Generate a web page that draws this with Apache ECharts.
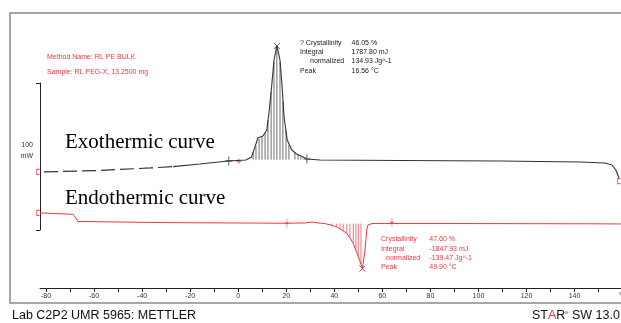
<!DOCTYPE html>
<html>
<head>
<meta charset="utf-8">
<script src="https://cdn.jsdelivr.net/npm/echarts@6.0.0/dist/echarts.min.js"></script>
<style>
  html, body { margin: 0; padding: 0; background: #fff; }
  #chart { width: 621px; height: 323px; }
</style>
</head>
<body>
<div id="chart"></div>
<script>
// temperature (°C) / heat flow (mW, shifted)
const exoDashT = [-80.8, -57.5, -36.7, -27.1];
const exoDashV = [39.5, 40.5, 42.2, 43.1];
const exoT = [-27.1, -15.9, -4.25, 3.2, 5.6, 7.0, 8.2, 10.3, 11.9, 12.8, 13.9, 14.9, 16.1, 17.4, 18.2, 19.1, 20.4, 22.3, 24.3, 27.0, 28.6, 34.0, 67.3, 109.0, 142.3, 152.7, 155.6, 157.2, 158.5];
const exoV = [43.1, 44.9, 46.9, 47.6, 49.7, 56.5, 62.6, 63.9, 68.0, 79.6, 97.3, 115.6, 125.2, 115.6, 99.3, 76.9, 61.2, 54.4, 51.7, 49.7, 48.3, 47.6, 47.3, 46.9, 46.3, 45.6, 44.2, 40.8, 35.4];
const endoT = [-82.5, -68.8, -67.9, -66.7, -28.4, 20.3, 27.8, 30.7, 33.2, 36.1, 41.0, 45.2, 47.9, 50.0, 51.7, 52.8, 53.5, 54.0, 55.7, 88.1, 150.6, 159.3];
const endoV = [11.6, 10.7, 8.8, 5.8, 5.0, 4.6, 4.8, 5.4, 4.8, 4.4, 2.2, -2.2, -9.0, -18.2, -26.2, -13.6, 0, 3.4, 4.4, 4.4, 4.2, 4.1];

// integration hatching
const exoHatchT = [6.2, 7.4, 8.7, 9.9, 11.2, 12.4, 13.7, 14.9, 16.1, 17.4, 18.6, 19.9, 21.1, 23.6, 24.9, 26.1];
const exoHatchTop = [53.1, 57.1, 61.9, 63.3, 66.0, 74.8, 94.0, 114.3, 124.5, 114.3, 87.8, 68.0, 57.8, 52.4, 51.0, 50.0];
const exoHatchBase = 47.9;
const endoHatchT = [38.9, 41.0, 42.4, 43.7, 45.2, 46.5, 47.9, 49.0, 50.0, 51.1];
const endoHatchBottom = [3.1, 2.2, 1.0, -0.7, -2.2, -5.4, -9.0, -13.6, -18.2, -23.1];
const endoHatchBase = 4.4;

// markers
const peakT = [16.1, 51.7];
const peakV = [125.2, -26.2];
const exoLimitT = [-3.9, 28.6];
const exoLimitV = [47.0, 48.3];
const endoLimitT = [20.3, 64.0];
const endoLimitV = [4.6, 5.2];
const redPlusT = [0.3];
const redPlusV = [46.7];
const endMarkT = [-83.3, -83.3, 158.5];
const endMarkV = [39.5, 11.6, 33.3];

// axis ticks
const xTickValues = [-80, -70, -60, -50, -40, -30, -20, -10, 0, 10, 20, 30, 40, 50, 60, 70, 80, 90, 100, 110, 120, 130, 140, 150, 160];
const xLabelValues = [-80, -60, -40, -20, 0, 20, 40, 60, 80, 100, 120, 140, 160];

const zip = (a, b) => a.map((v, i) => [v, b[i]]);
const zip3 = (a, b, c) => a.map((v, i) => [v, b, c[i]]);

const RED = '#f2343c';
const INK = '#222';

const hatch = (color, width, opacity) => (params, api) => {
  const p0 = api.coord([api.value(0), api.value(1)]);
  const p1 = api.coord([api.value(0), api.value(2)]);
  return {
    type: 'line',
    shape: { x1: p0[0], y1: p0[1], x2: p1[0], y2: p1[1] },
    style: { stroke: color, lineWidth: width, opacity: opacity },
  };
};

const chart = echarts.init(document.getElementById('chart'), null, { renderer: 'canvas' });

const smallText = (x, y, text, color, align) => ({
  type: 'text', x: x, y: y, silent: true,
  style: { text: text, fill: color, fontSize: 7, fontFamily: 'Liberation Sans', align: align || 'left', verticalAlign: 'middle' },
});

chart.setOption({
  animation: false,
  grid: { left: 40, top: 83, width: 594.6, height: 147, containLabel: false, outerBoundsMode: 'none' },
  xAxis: {
    type: 'value',
    min: -82.5,
    max: 165,
    offset: 58,
    axisLine: { onZero: false, lineStyle: { color: INK, width: 1 } },
    axisTick: { customValues: xTickValues, length: 4, lineStyle: { color: INK } },
    axisLabel: {
      customValues: xLabelValues,
      formatter: (v) => (v === 160 ? '°C' : String(v)),
      fontSize: 7,
      fontFamily: 'Liberation Sans',
      color: '#333',
      margin: 5,
    },
    splitLine: { show: false },
  },
  yAxis: {
    type: 'value',
    min: 0,
    max: 100,
    // trailing blank line lifts the two-line name a little above the middle
    name: '100\nmW\n',
    nameLocation: 'middle',
    nameRotate: 0,
    nameGap: 7,
    nameTextStyle: { fontSize: 7, fontFamily: 'Liberation Sans', color: '#333', lineHeight: 11 },
    axisLine: { show: true, onZero: false, lineStyle: { color: INK, width: 1 } },
    axisTick: { show: true, customValues: [0, 100], length: 4, lineStyle: { color: INK } },
    axisLabel: { show: false },
    splitLine: { show: false },
  },
  series: [
    {
      type: 'line', data: zip(exoDashT, exoDashV), symbol: 'none', clip: false,
      lineStyle: { color: '#333', width: 1.2, type: [14, 5] },
    },
    {
      type: 'line', data: zip(exoT, exoV), symbol: 'none', clip: false,
      lineStyle: { color: '#333', width: 1.1 },
    },
    {
      type: 'line', data: zip(endoT, endoV), symbol: 'none', clip: false,
      lineStyle: { color: RED, width: 1 },
    },
    {
      type: 'custom', data: zip3(exoHatchT, exoHatchBase, exoHatchTop), clip: false,
      renderItem: hatch('#333', 0.8, 0.9),
    },
    {
      type: 'custom', data: zip3(endoHatchT, endoHatchBase, endoHatchBottom), clip: false,
      renderItem: hatch(RED, 0.8, 0.85),
    },
    {
      type: 'scatter', data: zip(peakT, peakV), clip: false,
      symbol: 'path://M0,0L10,10M10,0L0,10', symbolSize: 6,
      itemStyle: { color: 'none', borderColor: '#333', borderWidth: 1 },
    },
    {
      type: 'scatter', data: zip(exoLimitT, exoLimitV), clip: false,
      symbol: 'path://M5,0L5,12M0,6L10,6', symbolSize: [7, 9],
      itemStyle: { color: 'none', borderColor: INK, borderWidth: 1 },
    },
    {
      type: 'scatter', data: zip(redPlusT, redPlusV), clip: false,
      symbol: 'path://M5,0L5,10M0,5L10,5', symbolSize: 5,
      itemStyle: { color: 'none', borderColor: RED, borderWidth: 1 },
    },
    {
      type: 'scatter', data: zip(endoLimitT, endoLimitV), clip: false,
      symbol: 'path://M5,0L5,12M3,6L7,6', symbolSize: [3, 9],
      itemStyle: { color: 'none', borderColor: RED, borderWidth: 1 },
    },
    {
      type: 'scatter', data: zip(endMarkT, endMarkV), clip: false,
      symbol: 'path://M6,0L0,0L0,8L6,8', symbolSize: [3, 5],
      itemStyle: { color: 'none', borderColor: RED, borderWidth: 1 },
    },
  ],
  graphic: [
    {
      type: 'rect', silent: true,
      shape: { x: 10, y: 13, width: 700, height: 290 },
      style: { fill: 'none', stroke: '#8a8a8a', lineWidth: 1.5 },
    },
    smallText(47, 57, 'Method Name: RL PE BULK', RED),
    smallText(47, 72, 'Sample: RL PEG-X, 13.2500 mg', RED),
    smallText(300, 43.3, '? Crystallinity', INK),
    smallText(351.5, 43.3, '46.05 %', INK),
    smallText(300, 52.3, 'Integral', INK),
    smallText(351.5, 52.3, '1787.80 mJ', INK),
    smallText(310, 61.5, 'normalized', INK),
    smallText(351.5, 61.5, '134.93 Jg^-1', INK),
    smallText(300, 70.7, 'Peak', INK),
    smallText(351.5, 70.7, '16.56 °C', INK),
    smallText(381, 239.3, 'Crystallinity', RED),
    smallText(429.3, 239.3, '47.60 %', RED),
    smallText(381, 248.7, 'Integral', RED),
    smallText(429.3, 248.7, '-1847.93 mJ', RED),
    smallText(386, 258, 'normalized', RED),
    smallText(429.3, 258, '-139.47 Jg^-1', RED),
    smallText(381, 267.3, 'Peak', RED),
    smallText(429.3, 267.3, '49.90 °C', RED),
    {
      type: 'text', x: 65, y: 142, silent: true,
      style: { text: 'Exothermic curve', fill: '#000', fontSize: 21, fontFamily: 'Liberation Serif', verticalAlign: 'middle' },
    },
    {
      type: 'text', x: 65, y: 198, silent: true,
      style: { text: 'Endothermic curve', fill: '#000', fontSize: 21, fontFamily: 'Liberation Serif', verticalAlign: 'middle' },
    },
    {
      type: 'text', x: 12, y: 316, silent: true,
      style: { text: 'Lab C2P2 UMR 5965: METTLER', fill: '#111', fontSize: 12.5, fontFamily: 'Liberation Sans', verticalAlign: 'middle' },
    },
    {
      type: 'text', x: 532, y: 316, silent: true,
      style: {
        text: '{k|ST}{r|A}{k|R}{s|e} {k|SW 13.0}',
        verticalAlign: 'middle',
        rich: {
          k: { fill: '#111', fontSize: 12.5, fontFamily: 'Liberation Sans' },
          r: { fill: RED, fontSize: 12.5, fontFamily: 'Liberation Sans' },
          s: { fill: RED, fontSize: 6, fontFamily: 'Liberation Sans', verticalAlign: 'top', padding: [0, 0, 6, 0] },
        },
      },
    },
  ],
});
</script>
</body>
</html>
